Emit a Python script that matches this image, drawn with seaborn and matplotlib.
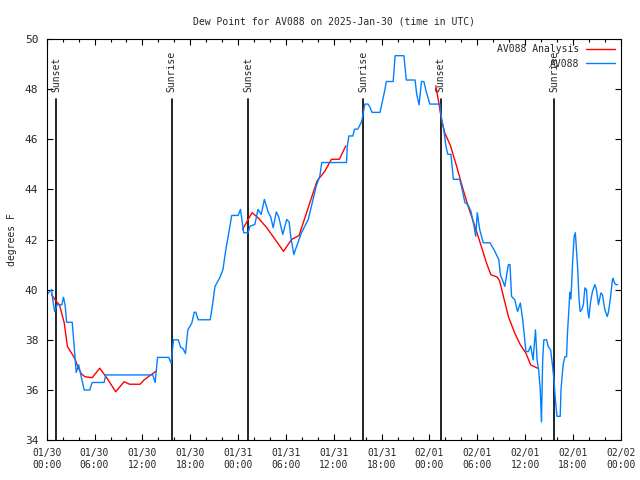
import numpy as np
import pandas as pd
import matplotlib
matplotlib.use("Agg")
import matplotlib.pyplot as plt
import matplotlib.dates as mdates
from matplotlib.lines import Line2D
import seaborn as sns

# --- data (hours after 2025-01-30 00:00 UTC) ---
START = pd.Timestamp("2025-01-30 00:00")

obs_hours = [0.0, 0.6, 0.8, 1.0, 1.3, 1.9, 2.1, 2.3, 2.5, 3.2, 3.7, 4.0, 4.35, 4.7, 5.4,
             5.7, 7.2, 7.4, 13.3, 13.6, 13.9, 15.3, 15.6, 15.9, 16.5, 16.8, 17.1, 17.4,
             17.7, 18.2, 18.5, 18.7, 19.0, 20.5, 20.8, 21.1, 21.7, 22.1, 22.5, 22.8, 23.2,
             24.0, 24.3, 24.7, 25.25, 25.5, 26.1, 26.5, 26.9, 27.3, 27.8, 28.1, 28.4, 28.8,
             29.1, 29.6, 30.1, 30.4, 30.6, 31.0, 31.2, 31.95, 32.8, 33.2, 33.8, 34.25, 34.5,
             37.6, 37.7, 37.9, 38.4, 38.6, 39.0, 39.5, 39.9, 40.3, 40.5, 40.8, 41.8, 42.0,
             42.3, 42.6, 43.45, 43.7, 44.8, 45.1, 46.2, 46.4, 46.7, 47.0, 47.3, 47.6, 48.05,
             49.3, 49.4, 49.6, 49.8, 50.06, 50.3, 50.7, 51.0, 51.8, 52.1, 52.45, 52.8, 53.2,
             53.6, 53.8, 54.0, 54.3, 54.75, 55.6, 56.2, 56.7, 56.9, 57.45, 57.9, 58.1, 58.3,
             58.7, 59.05, 59.4, 59.7, 60.1, 60.4, 60.7, 61.0, 61.3, 61.5, 61.7, 61.9, 62.05,
             62.2, 62.35, 62.7, 62.9, 63.2, 63.4, 63.6, 63.8, 64.0, 64.4, 64.5, 64.65, 64.8,
             65.0, 65.2, 65.3, 65.5, 65.6, 65.75, 65.95, 66.15, 66.3, 66.6, 66.75, 66.9,
             67.1, 67.3, 67.5, 67.7, 67.85, 68.0, 68.2, 68.45, 68.75, 68.95, 69.2, 69.5,
             69.7, 70.0, 70.3, 70.45, 70.7, 70.95, 71.05, 71.2, 71.4, 71.6]
obs_dewpt = [39.8, 40.0, 39.5, 39.13, 39.4, 39.4, 39.7, 39.4, 38.7, 38.7, 36.7, 37.0, 36.5,
             36.0, 36.0, 36.3, 36.3, 36.6, 36.6, 36.3, 37.3, 37.3, 37.07, 38.0, 38.0, 37.7,
             37.65, 37.45, 38.4, 38.67, 39.1, 39.1, 38.8, 38.8, 39.4, 40.13, 40.47, 40.8,
             41.67, 42.2, 42.96, 42.96, 43.2, 42.27, 42.27, 42.53, 42.6, 43.2, 43.0, 43.6,
             43.07, 42.9, 42.47, 43.1, 42.9, 42.2, 42.8, 42.7, 42.13, 41.4, 41.6, 42.27, 42.8,
             43.33, 44.13, 44.53, 45.07, 45.07, 45.73, 46.13, 46.13, 46.4, 46.4, 46.7, 47.4,
             47.4, 47.3, 47.07, 47.07, 47.36, 47.8, 48.3, 48.3, 49.33, 49.33, 48.36, 48.36,
             47.8, 47.37, 48.3, 48.3, 47.9, 47.4, 47.4, 47.07, 46.67, 46.4, 45.73, 45.4, 45.4,
             44.4, 44.4, 44.0, 43.47, 43.4, 43.13, 42.53, 42.13, 43.07, 42.4, 41.87, 41.87,
             41.53, 41.2, 40.6, 40.13, 41.0, 41.0, 39.73, 39.6, 39.13, 39.47, 38.8, 37.53,
             37.53, 37.76, 37.2, 38.4, 37.2, 36.8, 36.0, 34.73, 37.2, 38.0, 38.0, 37.73, 37.6,
             37.07, 36.47, 35.6, 34.95, 34.95, 36.0, 36.6, 37.07, 37.33, 37.33, 38.2, 39.27,
             39.9, 39.63, 41.07, 42.13, 42.27, 40.8, 39.67, 39.13, 39.2, 39.4, 40.07, 40.0,
             39.2, 38.87, 39.5, 39.93, 40.2, 40.0, 39.4, 39.87, 39.8, 39.2, 38.93, 39.1,
             39.67, 40.4, 40.45, 40.27, 40.2, 40.2]

# analysis comes in three separate runs
ana_run = [1] * 19 + [2] * 13 + [3] * 20
ana_hours = [0.6, 1.2, 1.6, 2.2, 2.6, 3.0, 3.5, 3.9, 4.35, 4.8, 5.7, 6.65, 7.5, 8.65, 9.7,
             10.4, 11.7, 12.2, 13.75,
             24.55, 25.75, 26.5, 27.6, 29.7, 30.7, 31.65, 33.0, 33.9, 34.9, 35.7, 36.7, 37.5,
             48.8, 49.2, 49.5, 49.9, 50.65, 51.4, 52.1, 52.85, 53.7, 54.5, 55.15, 55.7, 56.5,
             56.8, 57.9, 58.7, 59.4, 60.1, 60.7, 61.55]
ana_dewpt = [39.8, 39.53, 39.4, 38.67, 37.73, 37.53, 37.27, 36.93, 36.64, 36.53, 36.49,
             36.87, 36.5, 35.93, 36.33, 36.23, 36.23, 36.4, 36.76,
             42.4, 43.07, 42.87, 42.47, 41.53, 42.0, 42.16, 43.47, 44.33, 44.73, 45.2, 45.2,
             45.73,
             48.13, 47.4, 46.8, 46.27, 45.73, 44.93, 44.13, 43.33, 42.53, 41.73, 41.07, 40.6,
             40.5, 40.35, 38.93, 38.27, 37.8, 37.47, 37.0, 36.87]

sun_hours = [1.22, 15.65, 25.26, 39.69, 49.4, 63.65]
sun_labels = ["Sunset", "Sunrise", "Sunset", "Sunrise", "Sunset", "Sunrise"]

obs = pd.DataFrame({"time": START + pd.to_timedelta(obs_hours, unit="h"), "dewpt": obs_dewpt})
ana = pd.DataFrame({"time": START + pd.to_timedelta(ana_hours, unit="h"),
                    "dewpt": ana_dewpt, "run": ana_run})

# --- style ---
sns.set_theme(style="ticks")
plt.rcParams["font.family"] = ["DejaVu Sans Mono"]
plt.rcParams["font.size"] = 7

RED = "#ff0000"
BLUE = "#0080ff"

fig = plt.figure(figsize=(6.4, 4.8), dpi=100)
ax = fig.add_axes([0.073, 0.083, 0.897, 0.836])

sns.lineplot(data=ana, x="time", y="dewpt", units="run", estimator=None,
             color=RED, lw=1.0, ax=ax)
sns.lineplot(data=obs, x="time", y="dewpt", estimator=None, color=BLUE, lw=1.0, ax=ax)

# sunrise / sunset markers
for h, lab in zip(sun_hours, sun_labels):
    t = START + pd.Timedelta(hours=h)
    ax.plot([t, t], [34, 47.62], color="black", lw=1.2, zorder=1)
    ax.text(t, 47.9, lab, rotation=90, ha="center", va="bottom", fontsize=7)

ax.set_xlim(START, START + pd.Timedelta(hours=72))
ax.set_ylim(34, 50)
ax.set_yticks(np.arange(34, 51, 2))
ax.xaxis.set_major_locator(mdates.HourLocator(byhour=[0, 6, 12, 18]))
ax.xaxis.set_minor_locator(mdates.HourLocator(byhour=range(0, 24, 2)))
ax.xaxis.set_major_formatter(mdates.DateFormatter("%m/%d\n%H:%M"))
ax.tick_params(which="both", direction="in", top=True, right=True, color="black")
ax.tick_params(axis="x", which="major", labelsize=7, pad=6)
ax.tick_params(axis="y", which="major", labelsize=8, pad=6)
ax.tick_params(which="major", length=4.5, width=0.8)
ax.tick_params(which="minor", length=2.5, width=0.8)
for s in ax.spines.values():
    s.set_color("black")
    s.set_linewidth(0.8)

ax.set_xlabel("")
ax.set_ylabel("degrees F", fontsize=7, labelpad=6)
ax.set_title("Dew Point for AV088 on 2025-Jan-30 (time in UTC)", fontsize=7, pad=10)

handles = [Line2D([], [], color=RED, lw=1.0), Line2D([], [], color=BLUE, lw=1.0)]
ax.legend(handles, ["AV088 Analysis", "AV088"], loc="upper right", frameon=False,
          markerfirst=False, handlelength=3.0, fontsize=7, labelspacing=0.45,
          borderaxespad=0.15, handletextpad=0.7)

fig.savefig("out.png", dpi=100)
